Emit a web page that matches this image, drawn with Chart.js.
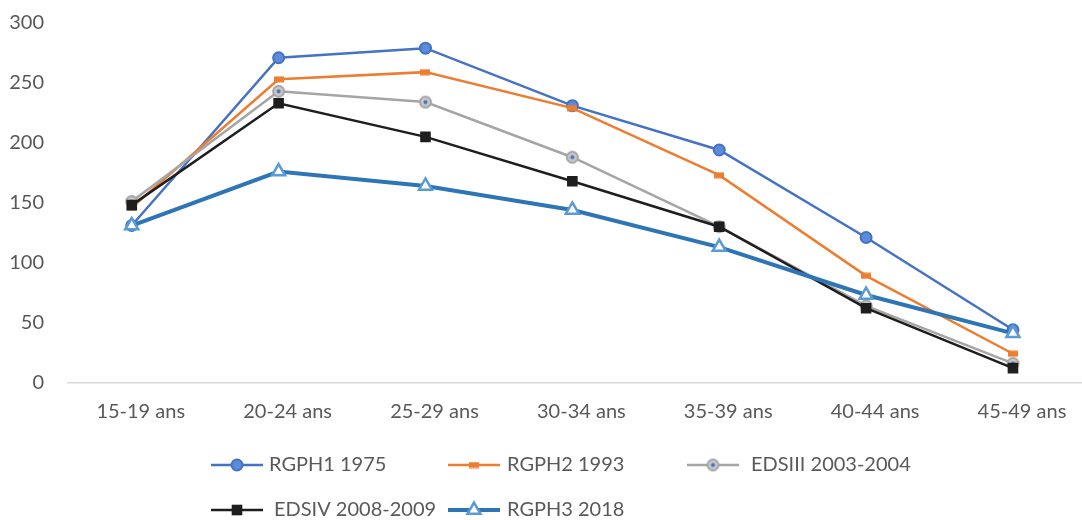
<!DOCTYPE html>
<html>
<head>
<meta charset="utf-8">
<title>Taux de fécondité par groupe d'âge</title>
<script src="https://cdn.jsdelivr.net/npm/chart.js@4/dist/chart.umd.min.js"></script>
<style>
  html, body { margin: 0; padding: 0; background: #ffffff; }
  #wrap { width: 1082px; height: 520px; }
  canvas { display: block; }
</style>
</head>
<body>
<div id="wrap"><canvas id="chart" width="1082" height="520"></canvas></div>
<script>
// Age groups
const categories = ['15-19 ans', '20-24 ans', '25-29 ans', '30-34 ans', '35-39 ans', '40-44 ans', '45-49 ans'];

// Age-specific fertility rates (per 1000 women) for each survey
const rgph1975 = [131, 271, 279, 231, 194, 121, 44];
const rgph1993 = [146, 253, 259, 229, 173, 89, 24];
const edsiii2003 = [151, 243, 234, 188, 130, 64, 16];
const edsiv2008 = [148, 233, 205, 168, 130, 62, 12];
const rgph2018 = [131, 176, 164, 144, 113, 73, 41];

// Y axis tick values
const yTicks = [0, 50, 100, 150, 200, 250, 300];

const seriesNames = ['RGPH1 1975', 'RGPH2 1993', 'EDSIII 2003-2004', 'EDSIV 2008-2009', 'RGPH3 2018'];

// Custom marker sprites
function makeSprite(w, h, paint) {
  const c = document.createElement('canvas');
  c.width = w; c.height = h;
  paint(c.getContext('2d'));
  return c;
}
const orangeDash = makeSprite(10, 7, (g) => {
  g.fillStyle = '#ED7D31';
  g.fillRect(0, 0.5, 10, 6);
});
const greyDot = makeSprite(15, 15, (g) => {
  g.beginPath(); g.arc(7.5, 7.5, 5.5, 0, Math.PI * 2);
  g.fillStyle = '#C8C8C8'; g.fill();
  g.lineWidth = 2; g.strokeStyle = '#A5A5A5'; g.stroke();
  g.beginPath(); g.arc(7.5, 7.5, 2, 0, Math.PI * 2);
  g.fillStyle = '#4472C4'; g.fill();
});

const toPoints = (arr) => arr.map((v, i) => ({ x: i, y: v }));

const datasets = [
  { label: seriesNames[0], data: toPoints(rgph1975), borderColor: '#4472C4', borderWidth: 2.5,
    pointStyle: 'circle', pointRadius: 5.5, pointBackgroundColor: '#5B8BD9', pointBorderColor: '#4472C4', pointBorderWidth: 2, order: 5 },
  { label: seriesNames[1], data: toPoints(rgph1993), borderColor: '#ED7D31', borderWidth: 2.5,
    pointStyle: orangeDash, pointRadius: 5, order: 4 },
  { label: seriesNames[2], data: toPoints(edsiii2003), borderColor: '#A5A5A5', borderWidth: 2.5,
    pointStyle: greyDot, pointRadius: 6, order: 3 },
  { label: seriesNames[3], data: toPoints(edsiv2008), borderColor: '#1E1E1E', borderWidth: 2.5,
    pointStyle: 'rect', pointRadius: 7.5, pointBackgroundColor: '#1E1E1E', pointBorderColor: '#1E1E1E', pointBorderWidth: 0, order: 2 },
  { label: seriesNames[4], data: toPoints(rgph2018), borderColor: '#2E75B6', borderWidth: 4,
    pointStyle: 'triangle', pointRadius: 7.5, pointBackgroundColor: '#FFFFFF', pointBorderColor: '#5B9BD5', pointBorderWidth: 2.5, order: 1 }
];
datasets.forEach(d => { d.tension = 0; d.fill = false; d.backgroundColor = d.borderColor; d.pointHoverRadius = d.pointRadius; });

// Legend laid out in a fixed grid below the plot
const legendSlots = [
  { col: 211, row: 465, text: 269 },
  { col: 448, row: 465, text: 507 },
  { col: 687, row: 465, text: 751 },
  { col: 211, row: 510, text: 274 },
  { col: 448, row: 510, text: 507 }
];
const gridLegend = {
  id: 'gridLegend',
  afterDraw(chart) {
    const ctx = chart.ctx;
    chart.data.datasets.forEach((ds, i) => {
      const s = legendSlots[i];
      const x0 = s.col, x1 = s.col + 52, y = s.row;
      ctx.save();
      ctx.strokeStyle = ds.borderColor;
      ctx.lineWidth = ds.borderWidth;
      ctx.beginPath(); ctx.moveTo(x0, y); ctx.lineTo(x1, y); ctx.stroke();
      ctx.fillStyle = ds.pointBackgroundColor || ds.borderColor;
      ctx.strokeStyle = ds.pointBorderColor || ds.borderColor;
      ctx.lineWidth = ds.pointBorderWidth || 0;
      Chart.helpers.drawPoint(ctx, {
        pointStyle: ds.pointStyle, radius: ds.pointRadius, rotation: 0, borderWidth: ds.pointBorderWidth || 0
      }, (x0 + x1) / 2, y);
      ctx.fillStyle = '#595959';
      ctx.font = '20px Lato';
      ctx.textBaseline = 'middle';
      ctx.textAlign = 'left';
      ctx.fillText(ds.label, s.text, y);
      ctx.restore();
    });
  }
};

new Chart(document.getElementById('chart'), {
  type: 'line',
  data: { datasets },
  plugins: [gridLegend],
  options: {
    responsive: false,
    devicePixelRatio: 1,
    animation: false,
    layout: { autoPadding: false, padding: { top: 23, right: 0, bottom: 78.5, left: 0 } },
    plugins: { legend: { display: false }, tooltip: { enabled: false } },
    scales: {
      x: {
        type: 'linear',
        min: -0.434,
        max: 6.47,
        afterBuildTicks: (scale) => { scale.ticks = categories.map((_, i) => ({ value: i })); },
        afterFit: (scale) => { scale.paddingLeft = 0; scale.paddingRight = 0; },
        ticks: {
          callback: (v) => categories[Math.round(v)],
          font: { family: 'Lato', size: 20 },
          color: '#595959',
          padding: 17.5,
          labelOffset: 9,
          maxRotation: 0,
          autoSkip: false
        },
        grid: { display: false, drawTicks: false },
        border: { display: true, color: '#D9D9D9', width: 1.5 }
      },
      y: {
        min: 0,
        max: 300,
        afterBuildTicks: (scale) => { scale.ticks = yTicks.map(v => ({ value: v })); },
        afterFit: (scale) => { scale.width = 68; scale.paddingTop = 0; scale.paddingBottom = 0; },
        ticks: {
          font: { family: 'Lato', size: 20 },
          color: '#595959',
          padding: 24
        },
        grid: { display: false, drawTicks: false },
        border: { display: false }
      }
    }
  }
});
</script>
</body>
</html>
